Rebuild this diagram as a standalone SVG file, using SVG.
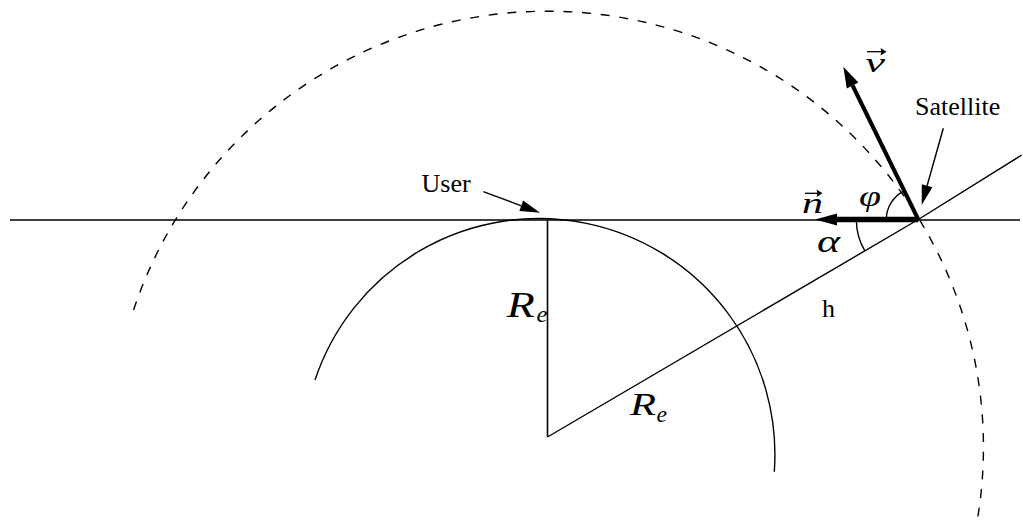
<svg xmlns="http://www.w3.org/2000/svg" width="1023" height="522" viewBox="0 0 1023 522">
<style>
.ln{fill:none;stroke:#000;stroke-width:1.4}
.dash{fill:none;stroke:#000;stroke-width:1.4;stroke-dasharray:9 9.7}
.hd{fill:#000;stroke:none}
</style>
<rect width="1023" height="522" fill="#fff"/>
<g id="orbit">
<path class="dash" d="M 133.6 310 A 436 436 0 0 1 977.5 519"/>
</g>
<g id="earth">
<path class="ln" d="M 315 380 A 236 236 0 0 1 774.3 471.7"/>
</g>
<g id="connectors">
<line class="ln" x1="10" y1="220" x2="1020" y2="220" style="stroke-width:1.6"/>
<line class="ln" x1="547.5" y1="220" x2="547.5" y2="437" style="stroke-width:1.6"/>
<polyline class="ln" points="547.5,437 918.3,219.5 1021.7,155"/>
<path class="ln" d="M 886.3 219.5 A 32 32 0 0 1 904.2 190.8"/>
<path class="ln" d="M 856.3 219.5 A 62 62 0 0 0 864.8 250.8"/>
<line x1="918.3" y1="219.5" x2="852.6" y2="85.5" stroke="#000" stroke-width="4"/>
<polygon class="hd" points="843.3,66.7 858.4,82.6 846.8,88.4"/>
<line x1="918.3" y1="219.5" x2="834" y2="219.5" stroke="#000" stroke-width="5.5"/>
<polygon class="hd" points="815,219.5 837,213.5 837,225.5"/>
<line class="ln" x1="943.3" y1="128.3" x2="927.1" y2="185.8"/>
<polygon class="hd" points="921.7,205 921.8,184.3 932.4,187.3"/>
<line class="ln" x1="483.3" y1="191.7" x2="521.3" y2="205.8"/>
<polygon class="hd" points="540,212.7 519.4,210.9 523.2,200.6"/>
</g>
<g id="labels" font-family="Liberation Serif, serif" fill="#000">
<text id="user" x="421.5" y="191.5" font-size="26">User</text>
<text id="satellite" x="915" y="115" font-size="26">Satellite</text>
<text id="h" x="822" y="317" font-size="26">h</text>
<g id="re1" font-style="italic">
<text x="506.7" y="317" font-size="35" textLength="28" lengthAdjust="spacingAndGlyphs">R</text>
<text x="536.5" y="321.7" font-size="24" textLength="11" lengthAdjust="spacingAndGlyphs">e</text>
</g>
<g id="re2" font-style="italic">
<text x="630" y="415" font-size="31" textLength="26" lengthAdjust="spacingAndGlyphs">R</text>
<text x="656.5" y="421.5" font-size="24" textLength="10.5" lengthAdjust="spacingAndGlyphs">e</text>
</g>
<g id="alpha" font-style="italic"><text x="817" y="252" font-size="31" textLength="23" lengthAdjust="spacingAndGlyphs">α</text></g>
<g id="phi" font-style="italic"><text x="859" y="206" font-size="30" textLength="22" lengthAdjust="spacingAndGlyphs">φ</text></g>
<g id="nvec" font-style="italic">
<text x="802" y="213.3" font-size="30" textLength="21" lengthAdjust="spacingAndGlyphs">n</text>
<line x1="805" y1="193.3" x2="819" y2="193.3" stroke="#000" stroke-width="1.3"/>
<polygon class="hd" points="822.5,193.3 816.5,189.5 817.5,193.3 816.5,197.1"/>
</g>
<g id="vvec" font-style="italic">
<text x="865" y="71.7" font-size="27" textLength="20" lengthAdjust="spacingAndGlyphs">v</text>
<line x1="867" y1="51.7" x2="883" y2="51.7" stroke="#000" stroke-width="1.3"/>
<polygon class="hd" points="886.5,51.7 880.5,47.9 881.5,51.7 880.5,55.5"/>
</g>
</g>
</svg>
